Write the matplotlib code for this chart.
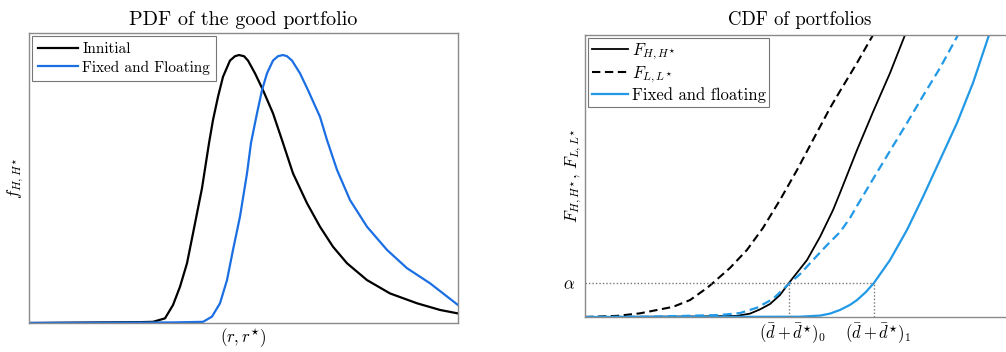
"""PDF and CDF of portfolios, redrawn from the reference figure."""

import matplotlib

matplotlib.use("Agg")
import matplotlib.pyplot as plt
from matplotlib.transforms import ScaledTranslation

plt.rcParams["font.family"] = "cmr10"
plt.rcParams["mathtext.fontset"] = "cm"
plt.rcParams["axes.formatter.use_mathtext"] = True

# ---------------------------------------------------------------------------
# Data (arbitrary units, no numeric ticks shown).
# ---------------------------------------------------------------------------

# Left panel: densities
pdf_init_x = [0.0, 11.1, 12.4, 13.6, 14.4, 15.1, 15.8, 16.4, 17.3, 18.0, 18.4,
              18.9, 19.4, 20.1, 20.6, 21.0, 21.5, 21.9, 22.6, 23.4, 24.4, 25.3,
              26.4, 27.8, 29.1, 30.4, 31.8, 33.8, 36.1, 38.8, 41.1, 42.9]
pdf_init_y = [0.0, 0.003, 0.004, 0.016, 0.062, 0.125, 0.206, 0.309, 0.465, 0.620,
              0.700, 0.780, 0.849, 0.905, 0.920, 0.924, 0.920, 0.905, 0.861, 0.803,
              0.723, 0.631, 0.516, 0.413, 0.332, 0.263, 0.206, 0.148, 0.102, 0.068,
              0.045, 0.033]

pdf_fixed_x = [0.0, 14.4, 17.4, 18.3, 19.1, 19.8, 20.4, 21.1, 21.8, 22.2, 22.8,
               23.3, 23.8, 24.4, 24.9, 25.4, 25.8, 26.3, 27.1, 27.9, 29.1, 29.8,
               30.8, 32.1, 33.8, 35.8, 37.8, 40.1, 42.9]
pdf_fixed_y = [0.0, 0.002, 0.004, 0.022, 0.068, 0.148, 0.252, 0.367, 0.516, 0.621,
               0.723, 0.803, 0.861, 0.905, 0.920, 0.924, 0.920, 0.905, 0.861, 0.803,
               0.711, 0.631, 0.528, 0.424, 0.332, 0.252, 0.189, 0.137, 0.062]

# Right panel: distribution functions
cdf_h_x = [0.0, 6.5, 11.5, 15.2, 16.5, 17.5, 18.5, 19.5, 20.4, 22.2, 23.5,
           24.8, 25.5, 27.2, 28.8, 30.5, 32.0]
cdf_h_y = [0.0, 0.001, 0.002, 0.004, 0.012, 0.027, 0.046, 0.078, 0.121, 0.202,
           0.284, 0.379, 0.440, 0.592, 0.727, 0.865, 1.0]

cdf_l_x = [0.0, 3.2, 5.5, 8.8, 10.5, 12.2, 12.8, 14.5, 16.2, 17.8, 19.5, 21.2,
           22.8, 24.5, 25.5, 27.2, 28.8]
cdf_l_y = [0.0, 0.004, 0.013, 0.036, 0.060, 0.103, 0.121, 0.174, 0.238, 0.316,
           0.415, 0.521, 0.628, 0.741, 0.801, 0.901, 1.0]

cdf_fixed_l_x = [0.0, 6.5, 13.5, 15.5, 17.2, 18.8, 20.3, 21.5, 22.8, 24.2, 25.5,
                 26.5, 27.2, 28.8, 30.5, 32.2, 33.8, 35.5, 37.3]
cdf_fixed_l_y = [0.0, 0.001, 0.007, 0.014, 0.033, 0.064, 0.115, 0.152, 0.202,
                 0.255, 0.301, 0.351, 0.394, 0.489, 0.589, 0.688, 0.784, 0.883, 1.0]

cdf_fixed_h_x = [0.0, 21.5, 23.5, 24.5, 25.5, 26.5, 27.2, 28.1, 28.9, 30.5,
                 32.2, 33.8, 35.5, 37.2, 38.8, 40.4]
cdf_fixed_h_y = [0.0, 0.001, 0.005, 0.012, 0.025, 0.043, 0.060, 0.089, 0.121,
                 0.202, 0.309, 0.426, 0.557, 0.688, 0.830, 1.0]

alpha_level = 0.12
threshold_x = [20.4, 28.9]
threshold_labels = [r"$(\bar{d}+\bar{d}^{\star})_0$", r"$(\bar{d}+\bar{d}^{\star})_1$"]

BLUE_PDF = "#1b6fe3"
BLUE_CDF = "#2299e6"
SPINE = "#8a8a8a"
DOTS = "#777777"

fig = plt.figure(figsize=(10.06, 3.52), dpi=100)

# ---------------------------------------------------------------------------
# Left: PDF of the good portfolio
# ---------------------------------------------------------------------------
ax1 = fig.add_axes([29 / 1006, 29 / 352, 429 / 1006, 290 / 352])
ax1.plot(pdf_init_x, pdf_init_y, color="black", lw=1.6, label="Innitial")
ax1.plot(pdf_fixed_x, pdf_fixed_y, color=BLUE_PDF, lw=1.6, label="Fixed and Floating")
ax1.set_xlim(0, 42.9)
ax1.set_ylim(0, 1)
ax1.set_xticks([])
ax1.set_yticks([])
ax1.set_title("PDF of the good portfolio", fontsize=14.5, pad=6)
ax1.set_xlabel(r"$(r, r^{\star})$", fontsize=12, labelpad=2)
ax1.set_ylabel(r"$f_{H,H^{\star}}$", fontsize=12)
ax1.yaxis.set_label_coords(-0.007, 0.5)
leg1 = ax1.legend(loc="upper left", fontsize=11, frameon=True, fancybox=False,
                  handlelength=2.6, handletextpad=0.3, borderpad=0.4,
                  borderaxespad=0.2, labelspacing=0.3)
leg1.get_frame().set_edgecolor("#555555")
leg1.get_frame().set_linewidth(0.8)

# ---------------------------------------------------------------------------
# Right: CDF of portfolios
# ---------------------------------------------------------------------------
ax2 = fig.add_axes([585 / 1006, 35 / 352, 430 / 1006, 282 / 352])
ax2.plot(cdf_h_x, cdf_h_y, color="black", lw=1.3, label=r"$F_{H,H^{\star}}$")
ax2.plot(cdf_l_x, cdf_l_y, color="black", lw=1.5, ls=(0, (4, 2.2)),
         label=r"$F_{L,L^{\star}}$")
ax2.plot(cdf_fixed_l_x, cdf_fixed_l_y, color=BLUE_CDF, lw=1.6, ls=(0, (4, 2.2)))
ax2.plot(cdf_fixed_h_x, cdf_fixed_h_y, color=BLUE_CDF, lw=1.6, label="Fixed and floating")

ax2.plot([0, threshold_x[1]], [alpha_level, alpha_level], color=DOTS, lw=1.0,
         ls=(0, (1, 1.5)))
for tx in threshold_x:
    ax2.plot([tx, tx], [0, alpha_level], color=DOTS, lw=1.0, ls=(0, (1, 1.5)))

ax2.set_xlim(0, 43)
ax2.set_ylim(0, 1)
ax2.set_xticks(threshold_x)
ax2.set_xticklabels(threshold_labels, fontsize=12)
ax2.set_yticks([alpha_level])
ax2.set_yticklabels([r"$\alpha$"], fontsize=12)
ax2.tick_params(axis="x", length=0, pad=3)
ax2.tick_params(axis="y", length=0, pad=7)
shift = ScaledTranslation(4 / 100, 0, fig.dpi_scale_trans)
for lab in ax2.get_xticklabels():
    lab.set_transform(lab.get_transform() + shift)
ax2.set_title("CDF of portfolios", fontsize=13.5, pad=7)
ax2.set_ylabel(r"$F_{H,H^{\star}},\, F_{L,L^{\star}}$", fontsize=12)
ax2.yaxis.set_label_coords(-0.003, 0.5)
leg2 = ax2.legend(loc="upper left", fontsize=12, frameon=True, fancybox=False,
                  handlelength=2.2, handletextpad=0.2, borderpad=0.2,
                  borderaxespad=0.2, labelspacing=0.15)
leg2.get_frame().set_edgecolor("#555555")
leg2.get_frame().set_linewidth(0.8)

for ax in (ax1, ax2):
    for spine in ax.spines.values():
        spine.set_edgecolor(SPINE)
        spine.set_linewidth(1.0)

fig.savefig("out.png", dpi=100)
